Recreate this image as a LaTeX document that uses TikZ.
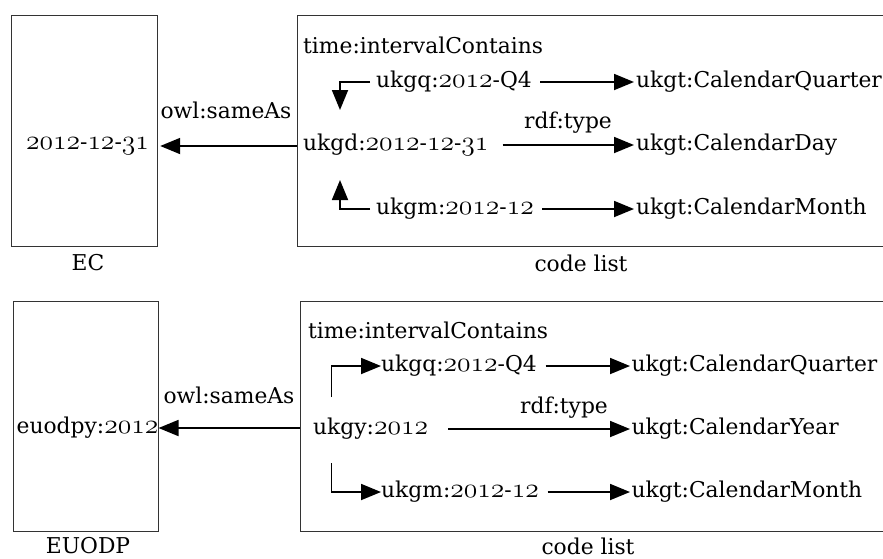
\documentclass[tikz,border=0pt]{standalone}
\usepackage{fontspec}
\usepackage{graphicx}
\setmainfont{DejaVu Serif}
\usetikzlibrary{arrows.meta,calc}
% old-style figures taken from the math italic font, enlarged to the text's x-height
\newcommand\osn[1]{\scalebox{1.33}{\fontsize{20.74}{24}\usefont{OML}{cmm}{m}{it}#1}}
\tikzset{
  frame/.style={draw=black!80, line width=1.2pt, inner sep=0pt, anchor=north west},
  lbl/.style={inner sep=0pt, anchor=west, font=\fontsize{21.8}{26}\selectfont},
  txt/.style={inner sep=0pt, font=\fontsize{21.8}{26}\selectfont},
  conn/.style={line width=1.8pt, -{Triangle[length=20pt,width=16pt]}},
}
\begin{document}
\begin{tikzpicture}[x=1pt,y=-1pt]
\useasboundingbox (0,0) rectangle (883,558);

% ---------- day ----------
\node[frame, minimum width=146pt, minimum height=231pt] (ec) at (11,15) {};
\node[frame, minimum width=620pt, minimum height=231pt] (cl1) at (297,15) {};
\node[txt] (ecv) at (87.5,146) {\osn{2012}-\osn{12}-\osn{31}};
\node[txt] (eclab) at (88,263) {EC};
\node[txt] (cl1lab) at (581,263) {code list};
\node[txt] (same1) at (226,110) {owl:sameAs};
\node[lbl] (ic1) at (303,45) {time:intervalContains};
\node[lbl] (q1) at (376,82) {ukgq:\osn{2012}-Q4};
\node[lbl] (d1) at (303,145) {ukgd:\osn{2012}-\osn{12}-\osn{31}};
\node[lbl] (m1) at (376,209) {ukgm:\osn{2012}-\osn{12}};
\node[lbl] (tq1) at (636,82) {ukgt:CalendarQuarter};
\node[lbl] (td1) at (636,145) {ukgt:CalendarDay};
\node[lbl] (tm1) at (636,209) {ukgt:CalendarMonth};
\node[txt] (rdf1) at (568,123) {rdf:type};
\coordinate (dtop) at (340,110);
\coordinate (dbot) at (340,180);

\draw[conn, shorten >=2pt] (cl1.west |- ecv) -- (ec.east |- ecv);
\draw[conn, shorten <=6pt] (q1.west) -| (dtop);
\draw[conn, shorten <=6pt] (m1.west) -| (dbot);
\draw[conn, shorten <=8pt, shorten >=2pt] (q1.east) -- (tq1.west);
\draw[conn, shorten <=14pt, shorten >=2pt] (d1.east) -- (td1.west);
\draw[conn, shorten <=8pt, shorten >=2pt] (m1.east) -- (tm1.west);

% ---------- year ----------
\node[frame, minimum width=145pt, minimum height=230pt] (eu) at (13,300.5) {};
\node[frame, minimum width=620pt, minimum height=230pt] (cl2) at (299.5,300.5) {};
\node[txt] (euv) at (87.5,428) {euodpy:\osn{2012}};
\node[txt] (eulab) at (88,546) {EUODP};
\node[txt] (cl2lab) at (588,546) {code list};
\node[txt] (same2) at (229,395) {owl:sameAs};
\node[lbl] (ic2) at (308,330) {time:intervalContains};
\node[lbl] (q2) at (381,366) {ukgq:\osn{2012}-Q4};
\node[lbl] (y2) at (313,429) {ukgy:\osn{2012}};
\node[lbl] (m2) at (381,492) {ukgm:\osn{2012}-\osn{12}};
\node[lbl] (tq2) at (631.5,366) {ukgt:CalendarQuarter};
\node[lbl] (ty2) at (631.5,429) {ukgt:CalendarYear};
\node[lbl] (tm2) at (631.5,492) {ukgt:CalendarMonth};
\node[txt] (rdf2) at (564,408) {rdf:type};
\coordinate (ytop) at (331.5,397);
\coordinate (ybot) at (331.5,463);

\draw[conn] (cl2.west |- euv) -- (euv.east);
\draw[conn] (ytop) |- (q2.west);
\draw[conn] (ybot) |- (m2.west);
\draw[conn, shorten <=8.5pt, shorten >=1.5pt] (q2.east) -- (tq2.west);
\draw[conn, shorten <=20pt, shorten >=1.5pt] (y2.east) -- (ty2.west);
\draw[conn, shorten <=8.5pt, shorten >=1.5pt] (m2.east) -- (tm2.west);
\end{tikzpicture}
\end{document}
